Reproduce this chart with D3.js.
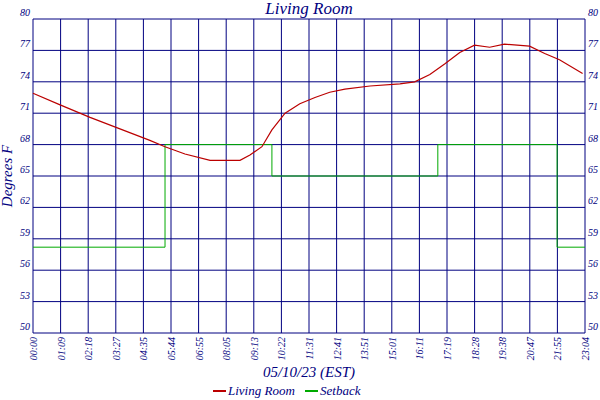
<!DOCTYPE html><html><head><script src="https://cdn.jsdelivr.net/npm/d3@7"></script>
<style>body{margin:0;background:#fff}text{font-family:"Liberation Serif",serif;font-style:italic;fill:#000080}</style></head><body><svg width="600" height="400"></svg><script>
const timeLabels=["00:00","01:09","02:18","03:27","04:35","05:44","06:55","08:05","09:13","10:22","11:31","12:41","13:51","15:01","16:11","17:19","18:28","19:38","20:47","21:55","23:04"];
const yTicks=[50,53,56,59,62,65,68,71,74,77,80];
const tempMin=[0,68,143,218,293,331,381,444,456,519,544,574,599,632,669,707,744,782,845,920,957,995,1032,1070,1107,1145,1182,1245,1283,1320,1378];
const tempVal=[72.9,71.8,70.6,69.5,68.4,67.8,67.1,66.5,66.5,66.5,67.0,67.8,69.4,71.0,71.9,72.5,73.0,73.3,73.6,73.8,74.0,74.7,75.7,76.8,77.5,77.3,77.6,77.4,76.7,76.1,74.8];
const setMin=[0,331,331,599,599,1015,1015,1314,1314,1384];
const setVal=[58.2,58.2,68,68,65,65,68,68,58.2,58.2];
const svg=d3.select("svg");
const x=d3.scaleLinear().domain([0,1384]).range([33,585]);
const y=d3.scaleLinear().domain([50,80]).range([333,19]);
const tickMins=timeLabels.map((d,i)=>i*1384/20);
const g=svg.append("g");
g.selectAll(".v").data(tickMins).join("line").attr("x1",d=>x(d)).attr("x2",d=>x(d)).attr("y1",19).attr("y2",333).attr("stroke","#000080");
g.selectAll(".h").data(yTicks).join("line").attr("x1",33).attr("x2",585).attr("y1",d=>y(d)).attr("y2",d=>y(d)).attr("stroke","#000080");
g.selectAll(".yl").data(yTicks).join("text").attr("x",30).attr("y",d=>y(d)-3).attr("text-anchor","end").attr("font-size",10).text(d=>d);
g.selectAll(".yr").data(yTicks).join("text").attr("x",588).attr("y",d=>y(d)-3).attr("font-size",10).text(d=>d);
g.selectAll(".xl").data(timeLabels).join("text").attr("transform",(d,i)=>`translate(${x(tickMins[i])+4},337) rotate(-90)`).attr("text-anchor","end").attr("font-size",10).text(d=>d);
const line=d3.line().x(d=>x(d[0])).y(d=>y(d[1]));
svg.append("path").attr("d",line(setMin.map((m,i)=>[m,setVal[i]]))).attr("fill","none").attr("stroke","#00aa00").attr("stroke-width",1);
svg.append("path").attr("d",line(tempMin.map((m,i)=>[m,tempVal[i]]))).attr("fill","none").attr("stroke","#bb0000").attr("stroke-width",1.2);
svg.append("text").attr("x",309).attr("y",14).attr("text-anchor","middle").attr("font-size",17).text("Living Room");
svg.append("text").attr("transform","translate(12,176) rotate(-90)").attr("text-anchor","middle").attr("font-size",15).text("Degrees F");
svg.append("text").attr("x",309).attr("y",377).attr("text-anchor","middle").attr("font-size",15).text("05/10/23 (EST)");
const lg=[["Living Room","#bb0000",213],["Setback","#00aa00",305]];
lg.forEach(([t,c,lx])=>{svg.append("line").attr("x1",lx).attr("x2",lx+13).attr("y1",391).attr("y2",391).attr("stroke",c).attr("stroke-width",2);
svg.append("text").attr("x",lx+15).attr("y",395).attr("font-size",13).text(t);});
</script></body></html>
